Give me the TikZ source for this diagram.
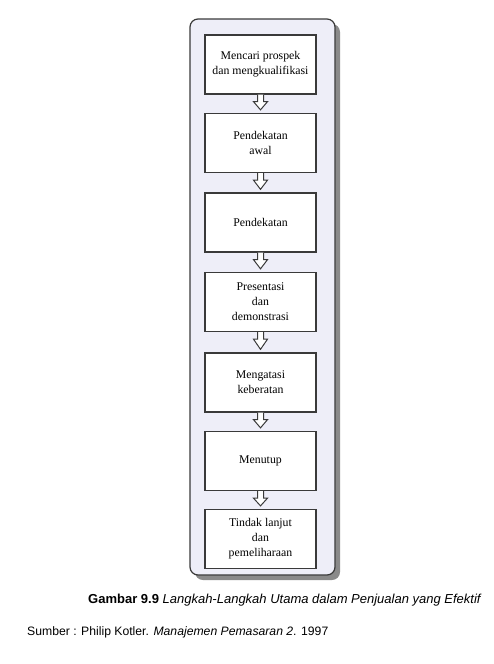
\documentclass[tikz,border=0pt]{standalone}
\usepackage{fontspec}
\setmainfont{Liberation Serif}
\newfontfamily\capfont{Liberation Sans}
\usetikzlibrary{calc}
\definecolor{panelfill}{HTML}{EEEEF8}
\definecolor{edgegray}{HTML}{3A3A3A}
\definecolor{shadowgray}{HTML}{8A8A8A}
\newcommand{\flowarr}[2]{%
  \draw[flowarrow] ($(#1.south)+(-3,0)$) -- ($(#1.south)+(-3,7)$) -- ($(#1.south)+(-7,7)$)
    -- ($(#2.north)+(0,-3)$) -- ($(#1.south)+(7,7)$) -- ($(#1.south)+(3,7)$) -- ($(#1.south)+(3,0)$);}
\begin{document}
\begin{tikzpicture}[x=1pt,y=-1pt,
  stepbox/.style={draw=edgegray, line width=1.3pt, fill=white, minimum width=111pt,
    minimum height=59pt, align=center, font=\fontsize{11.8}{15}\selectfont, inner sep=2pt},
  flowarrow/.style={draw=edgegray, line width=1pt, fill=white, line join=miter},
  captext/.style={anchor=west, inner sep=0pt, font=\capfont\fontsize{12}{14}\selectfont}]
\useasboundingbox (0,0) rectangle (494,664);
\fill[shadowgray, rounded corners=8pt] (195,24) rectangle (340,580);
\draw[edgegray, line width=1.2pt, fill=panelfill, rounded corners=8pt] (190,19) rectangle (335,575);
\node[stepbox] (s1) at (260.5,64.5) {Mencari prospek\\dan mengkualifikasi};
\node[stepbox] (s2) at (260.5,143) {Pendekatan\\awal};
\node[stepbox] (s3) at (260.5,222.5) {Pendekatan};
\node[stepbox] (s4) at (260.5,302) {Presentasi\\dan\\demonstrasi};
\node[stepbox] (s5) at (260.5,382.5) {Mengatasi\\keberatan};
\node[stepbox] (s6) at (260.5,461) {Menutup};
\node[stepbox] (s7) at (260.5,539) {Tindak lanjut\\dan\\pemeliharaan};
\flowarr{s1}{s2}
\flowarr{s2}{s3}
\flowarr{s3}{s4}
\flowarr{s4}{s5}
\flowarr{s5}{s6}
\flowarr{s6}{s7}
\node[captext, font=\capfont\fontsize{13}{15}\selectfont] (cap) at (88,600) {\textbf{Gambar 9.9} \textit{Langkah-Langkah Utama dalam Penjualan yang Efektif}};
\node[captext, font=\capfont\fontsize{12.2}{14}\selectfont] (src) at (27,632) {Sumber : Philip Kotler. \textit{Manajemen Pemasaran 2}. 1997};
\end{tikzpicture}
\end{document}
